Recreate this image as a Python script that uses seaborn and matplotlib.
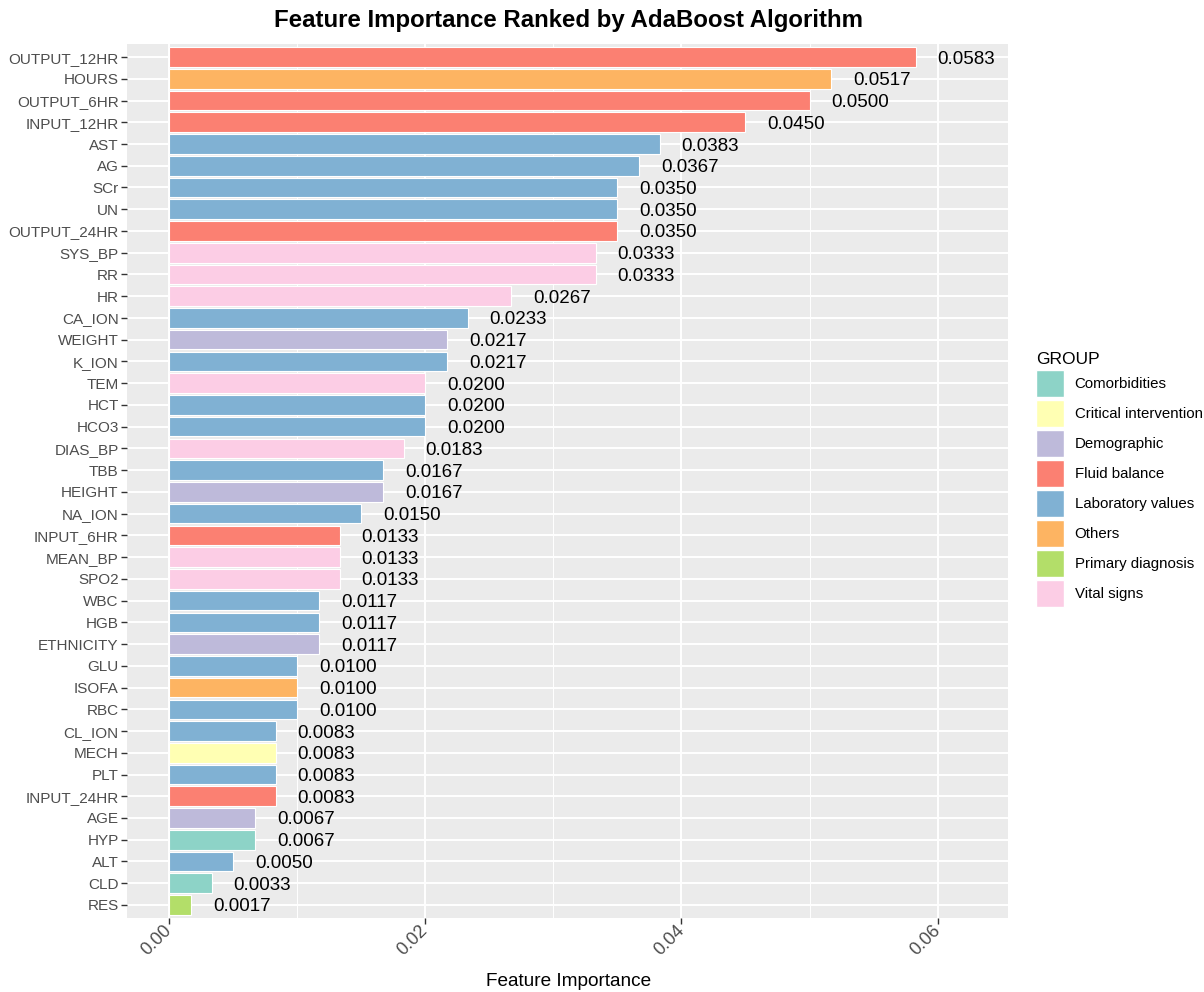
import matplotlib
matplotlib.use("Agg")
import matplotlib.pyplot as plt
from matplotlib.patches import Patch
from matplotlib.ticker import MultipleLocator
import pandas as pd
import seaborn as sns

features = ["OUTPUT_12HR", "HOURS", "OUTPUT_6HR", "INPUT_12HR", "AST", "AG", "SCr", "UN",
            "OUTPUT_24HR", "SYS_BP", "RR", "HR", "CA_ION", "WEIGHT", "K_ION", "TEM", "HCT",
            "HCO3", "DIAS_BP", "TBB", "HEIGHT", "NA_ION", "INPUT_6HR", "MEAN_BP", "SPO2",
            "WBC", "HGB", "ETHNICITY", "GLU", "ISOFA", "RBC", "CL_ION", "MECH", "PLT",
            "INPUT_24HR", "AGE", "HYP", "ALT", "CLD", "RES"]
importance = [0.0583, 0.0517, 0.0500, 0.0450, 0.0383, 0.0367, 0.0350, 0.0350,
              0.0350, 0.0333, 0.0333, 0.0267, 0.0233, 0.0217, 0.0217, 0.0200, 0.0200,
              0.0200, 0.0183, 0.0167, 0.0167, 0.0150, 0.0133, 0.0133, 0.0133,
              0.0117, 0.0117, 0.0117, 0.0100, 0.0100, 0.0100, 0.0083, 0.0083, 0.0083,
              0.0083, 0.0067, 0.0067, 0.0050, 0.0033, 0.0017]
groups = ["Fluid balance", "Others", "Fluid balance", "Fluid balance", "Laboratory values",
          "Laboratory values", "Laboratory values", "Laboratory values", "Fluid balance",
          "Vital signs", "Vital signs", "Vital signs", "Laboratory values", "Demographic",
          "Laboratory values", "Vital signs", "Laboratory values", "Laboratory values",
          "Vital signs", "Laboratory values", "Demographic", "Laboratory values",
          "Fluid balance", "Vital signs", "Vital signs", "Laboratory values",
          "Laboratory values", "Demographic", "Laboratory values", "Others",
          "Laboratory values", "Laboratory values", "Critical intervention",
          "Laboratory values", "Fluid balance", "Demographic", "Comorbidities",
          "Laboratory values", "Comorbidities", "Primary diagnosis"]

group_levels = ["Comorbidities", "Critical intervention", "Demographic", "Fluid balance",
                "Laboratory values", "Others", "Primary diagnosis", "Vital signs"]
group_colors = ["#8DD3C7", "#FFFFB3", "#BEBADA", "#FB8072",
                "#80B1D3", "#FDB462", "#B3DE69", "#FCCDE5"]
palette = dict(zip(group_levels, group_colors))

df = pd.DataFrame({"feature": features, "importance": importance, "group": groups})

sns.set_theme(style="darkgrid", rc={"axes.facecolor": "#EBEBEB", "grid.color": "white"})
plt.rcParams["font.family"] = ["Liberation Sans", "DejaVu Sans"]

fig = plt.figure(figsize=(12.04, 9.92), dpi=100)
ax = fig.add_axes([127 / 1204, 1 - 918 / 992, (1008 - 127) / 1204, (918 - 44) / 992])

sns.barplot(data=df, y="feature", x="importance", hue="group", palette=palette,
            dodge=False, width=0.9, edgecolor="white", linewidth=0.8, legend=False,
            saturation=1, order=features, ax=ax)

# value labels to the right of each bar
for i, v in enumerate(importance):
    ax.text(v + 0.0017, i, f"{v:.4f}", va="center_baseline", ha="left",
            fontsize=13.5, color="black")

ax.set_xlim(-0.0033, 0.0655)
ax.set_ylim(len(features) - 0.4, -0.6)
ax.xaxis.set_minor_locator(MultipleLocator(0.01))
ax.set_xticks([0.0, 0.02, 0.04, 0.06])
ax.set_xticklabels(["0.00", "0.02", "0.04", "0.06"])
ax.grid(which="major", color="white", linewidth=1.4)
ax.grid(which="minor", axis="x", color="white", linewidth=0.7)
ax.set_axisbelow(True)
for s in ax.spines.values():
    s.set_visible(False)

ax.tick_params(axis="both", which="major", length=4, width=1, color="#333333",
               bottom=True, left=True)
ax.tick_params(axis="y", labelsize=11, labelcolor="#4D4D4D", pad=2)
ax.tick_params(axis="x", labelsize=13, labelcolor="#4D4D4D", pad=3)
for lab in ax.get_xticklabels():
    lab.set_rotation(45)
    lab.set_ha("right")
    lab.set_va("center")
    lab.set_rotation_mode("anchor")
ax.set_xlabel("")
ax.set_ylabel("")

fig.text(568 / 1204, 1 - 20 / 992, "Feature Importance Ranked by AdaBoost Algorithm",
         ha="center", va="center", fontsize=17.3, fontweight="bold", color="black")
fig.text(569 / 1204, 1 - 981 / 992, "Feature Importance", ha="center", va="center",
         fontsize=13.7, color="black")

handles = [Patch(facecolor=c, edgecolor="white", linewidth=1) for c in group_colors]
leg = fig.legend(handles, group_levels, title="GROUP", loc="upper left",
                 bbox_to_anchor=(1036 / 1204, 1 - 352 / 992), frameon=False,
                 fontsize=10.8, title_fontsize=12.5, handlelength=1.85, handleheight=2.39,
                 labelspacing=0.2, handletextpad=0.73, borderpad=0, borderaxespad=0,
                 alignment="left")
leg.get_title().set_color("black")
for t in leg.get_texts():
    t.set_color("black")

fig.savefig("out.png", dpi=100)
